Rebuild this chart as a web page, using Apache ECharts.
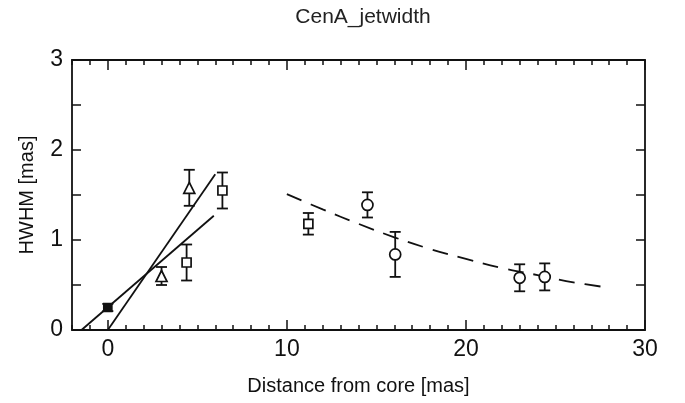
<!DOCTYPE html>
<html lang="en">
<head>
    <meta charset="UTF-8">
    <title>CenA_jetwidth</title>
    <script src="https://cdn.jsdelivr.net/npm/echarts@6/dist/echarts.min.js"></script>
</head>
<body style="margin:0">
    <div id="main" style="width: 685px;height:403px;"></div>
    <script>
        // [distance, hwhm, error]
        var filledSquares = [[0.0, 0.25, 0.04]];
        var triangles = [[3.0, 0.6, 0.1], [4.55, 1.58, 0.2]];
        var squares = [[4.4, 0.75, 0.2], [6.4, 1.55, 0.2], [11.2, 1.18, 0.12]];
        var circles = [[14.5, 1.39, 0.14], [16.05, 0.84, 0.25], [23.0, 0.58, 0.15], [24.4, 0.59, 0.15]];

        // straight fits and the dashed curve
        var fitSteep = [[0.0, 0.0], [6.0, 1.73]];
        var fitShallow = [[-1.47, 0.0], [5.92, 1.27]];
        var curveX = [10, 12, 14, 16, 18, 20, 22, 24, 26, 28];
        var curveY = [1.51, 1.34, 1.18, 1.03, 0.90, 0.79, 0.69, 0.61, 0.53, 0.47];

        var xLabels = [0, 10, 20, 30];
        var yLabels = [0, 1, 2, 3];

        var font = 'Liberation Sans, Arial, sans-serif';
        var ink = '#111';

        function errorBars(rows) {
            return {
                type: 'custom',
                xAxisIndex: 0,
                yAxisIndex: 0,
                data: rows,
                z: 3,
                renderItem: function (params, api) {
                    var x = api.value(0), y = api.value(1), e = api.value(2);
                    var top = api.coord([x, y + e]);
                    var bot = api.coord([x, y - e]);
                    var w = 5.5;
                    var st = { stroke: ink, lineWidth: 1.8 };
                    return {
                        type: 'group',
                        children: [
                            { type: 'line', shape: { x1: top[0], y1: top[1], x2: bot[0], y2: bot[1] }, style: st },
                            { type: 'line', shape: { x1: top[0] - w, y1: top[1], x2: top[0] + w, y2: top[1] }, style: st },
                            { type: 'line', shape: { x1: bot[0] - w, y1: bot[1], x2: bot[0] + w, y2: bot[1] }, style: st }
                        ]
                    };
                }
            };
        }

        function markers(rows, symbol, size, fill) {
            return {
                type: 'scatter',
                xAxisIndex: 0,
                yAxisIndex: 0,
                symbol: symbol,
                symbolSize: size,
                data: rows.map(function (r) { return [r[0], r[1]]; }),
                itemStyle: { color: fill, borderColor: ink, borderWidth: 1.7, opacity: 1 },
                z: 4,
                silent: true
            };
        }

        var curveData = [];
        for (var i = 0; i < curveX.length; i++) curveData.push([curveX[i], curveY[i]]);

        var baseX = { type: 'value', min: -2, max: 30, gridIndex: 0, splitLine: { show: false } };
        var baseY = { type: 'value', min: 0, max: 3, interval: 0.5, splitLine: { show: false } };

        var myChart = echarts.init(document.getElementById('main'));
        var option = {
            animation: false,
            backgroundColor: '#fff',
            title: {
                text: 'CenA_jetwidth',
                left: 358,
                textAlign: 'center',
                top: 2,
                textStyle: { fontFamily: font, fontSize: 21, fontWeight: 'normal', color: '#222' }
            },
            grid: { left: 72, right: 40, top: 60, bottom: 73 },
            xAxis: [
                Object.assign({}, baseX, {
                    position: 'bottom',
                    interval: 1,
                    name: 'Distance from core [mas]',
                    nameLocation: 'middle',
                    nameGap: 46,
                    nameTextStyle: { fontFamily: font, fontSize: 20, color: ink },
                    axisLine: { show: true, onZero: false, lineStyle: { color: ink, width: 1.8 } },
                    axisTick: { show: true, inside: true, length: 5, lineStyle: { color: ink, width: 1.5 } },
                    axisLabel: { show: true, customValues: xLabels, margin: 8, fontFamily: font, fontSize: 23, color: ink }
                }),
                Object.assign({}, baseX, {
                    position: 'bottom',
                    interval: 1,
                    axisLine: { show: false, onZero: false },
                    axisTick: { show: true, inside: true, length: 10, customValues: xLabels, lineStyle: { color: ink, width: 1.5 } },
                    axisLabel: { show: false }
                }),
                Object.assign({}, baseX, {
                    position: 'top',
                    interval: 1,
                    axisLine: { show: true, onZero: false, lineStyle: { color: ink, width: 1.8 } },
                    axisTick: { show: true, inside: true, length: 5, lineStyle: { color: ink, width: 1.5 } },
                    axisLabel: { show: false }
                }),
                Object.assign({}, baseX, {
                    position: 'top',
                    interval: 1,
                    axisLine: { show: false, onZero: false },
                    axisTick: { show: true, inside: true, length: 10, customValues: xLabels, lineStyle: { color: ink, width: 1.5 } },
                    axisLabel: { show: false }
                })
            ],
            yAxis: [
                Object.assign({}, baseY, {
                    position: 'left',
                    name: 'HWHM [mas]',
                    nameLocation: 'middle',
                    nameGap: 35,
                    nameTextStyle: { fontFamily: font, fontSize: 20, color: ink },
                    axisLine: { show: true, onZero: false, lineStyle: { color: ink, width: 1.8 } },
                    axisTick: { show: true, inside: true, length: 9, lineStyle: { color: ink, width: 1.5 } },
                    axisLabel: { show: true, customValues: yLabels, margin: 9, fontFamily: font, fontSize: 23, color: ink }
                }),
                Object.assign({}, baseY, {
                    position: 'right',
                    axisLine: { show: true, onZero: false, lineStyle: { color: ink, width: 1.8 } },
                    axisTick: { show: true, inside: true, length: 9, lineStyle: { color: ink, width: 1.5 } },
                    axisLabel: { show: false }
                })
            ],
            series: [
                {
                    type: 'line', data: fitSteep, showSymbol: false, silent: true,
                    lineStyle: { color: ink, width: 1.8 }, z: 2
                },
                {
                    type: 'line', data: fitShallow, showSymbol: false, silent: true,
                    lineStyle: { color: ink, width: 1.8 }, z: 2
                },
                {
                    type: 'line', data: curveData, showSymbol: false, silent: true, smooth: 0.4,
                    lineStyle: { color: ink, width: 1.8, type: [16, 10] }, z: 2
                },
                errorBars(filledSquares),
                errorBars(triangles),
                errorBars(squares),
                errorBars(circles),
                markers(filledSquares, 'rect', 8, ink),
                markers(triangles, 'triangle', 11, '#fff'),
                markers(squares, 'rect', 9, '#fff'),
                markers(circles, 'circle', 11, '#fff')
            ]
        };
        myChart.setOption(option);
    </script>
</body>
</html>
